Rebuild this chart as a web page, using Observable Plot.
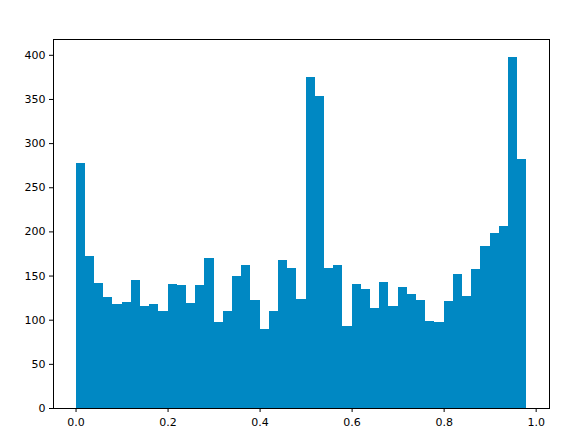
<!DOCTYPE html>
<html><head><meta charset="utf-8">
<script src="https://cdn.jsdelivr.net/npm/d3@7"></script>
<script src="https://cdn.jsdelivr.net/npm/@observablehq/plot@0.6"></script>
<style>body{margin:0;background:#fff}</style>
</head><body><div id="chart"></div>
<script>
const binWidth = 0.02;
const counts = [278,172,142,126,118,120,145,115,118,110,
                140,139,119,139,170,97,110,150,162,122,
                89,110,168,158,123,375,353,158,162,93,
                140,135,113,143,115,137,129,122,98,97,
                121,152,127,157,184,198,206,398,282];
const xTicks = [0, 0.2, 0.4, 0.6, 0.8, 1.0];
const yTicks = [0, 50, 100, 150, 200, 250, 300, 350, 400];

const bins = counts.map((c, i) => ({x1: i * binWidth, x2: (i + 1) * binWidth, count: c}));
const xMax = counts.length * binWidth;
const yMax = d3.max(counts) * 1.05;

const chart = Plot.plot({
  width: 583, height: 448,
  marginLeft: 53, marginRight: 34, marginTop: 39, marginBottom: 40,
  style: {fontFamily: "DejaVu Sans", fontSize: "11px", background: "#fff", color: "#000"},
  x: {domain: [-0.05 * xMax, 1.05 * xMax], ticks: xTicks, tickFormat: d3.format(".1f"), tickSize: 4, tickPadding: 6, label: null},
  y: {domain: [0, yMax], ticks: yTicks, tickSize: 4, tickPadding: 4, label: null},
  marks: [
    Plot.rectY(bins, {x1: "x1", x2: "x2", y: "count", fill: "#0088c3", inset: 0, shapeRendering: "crispEdges"}),
    Plot.frame({stroke: "#000", strokeWidth: 1})
  ]
});
document.getElementById("chart").appendChild(chart);
</script>
</body></html>
